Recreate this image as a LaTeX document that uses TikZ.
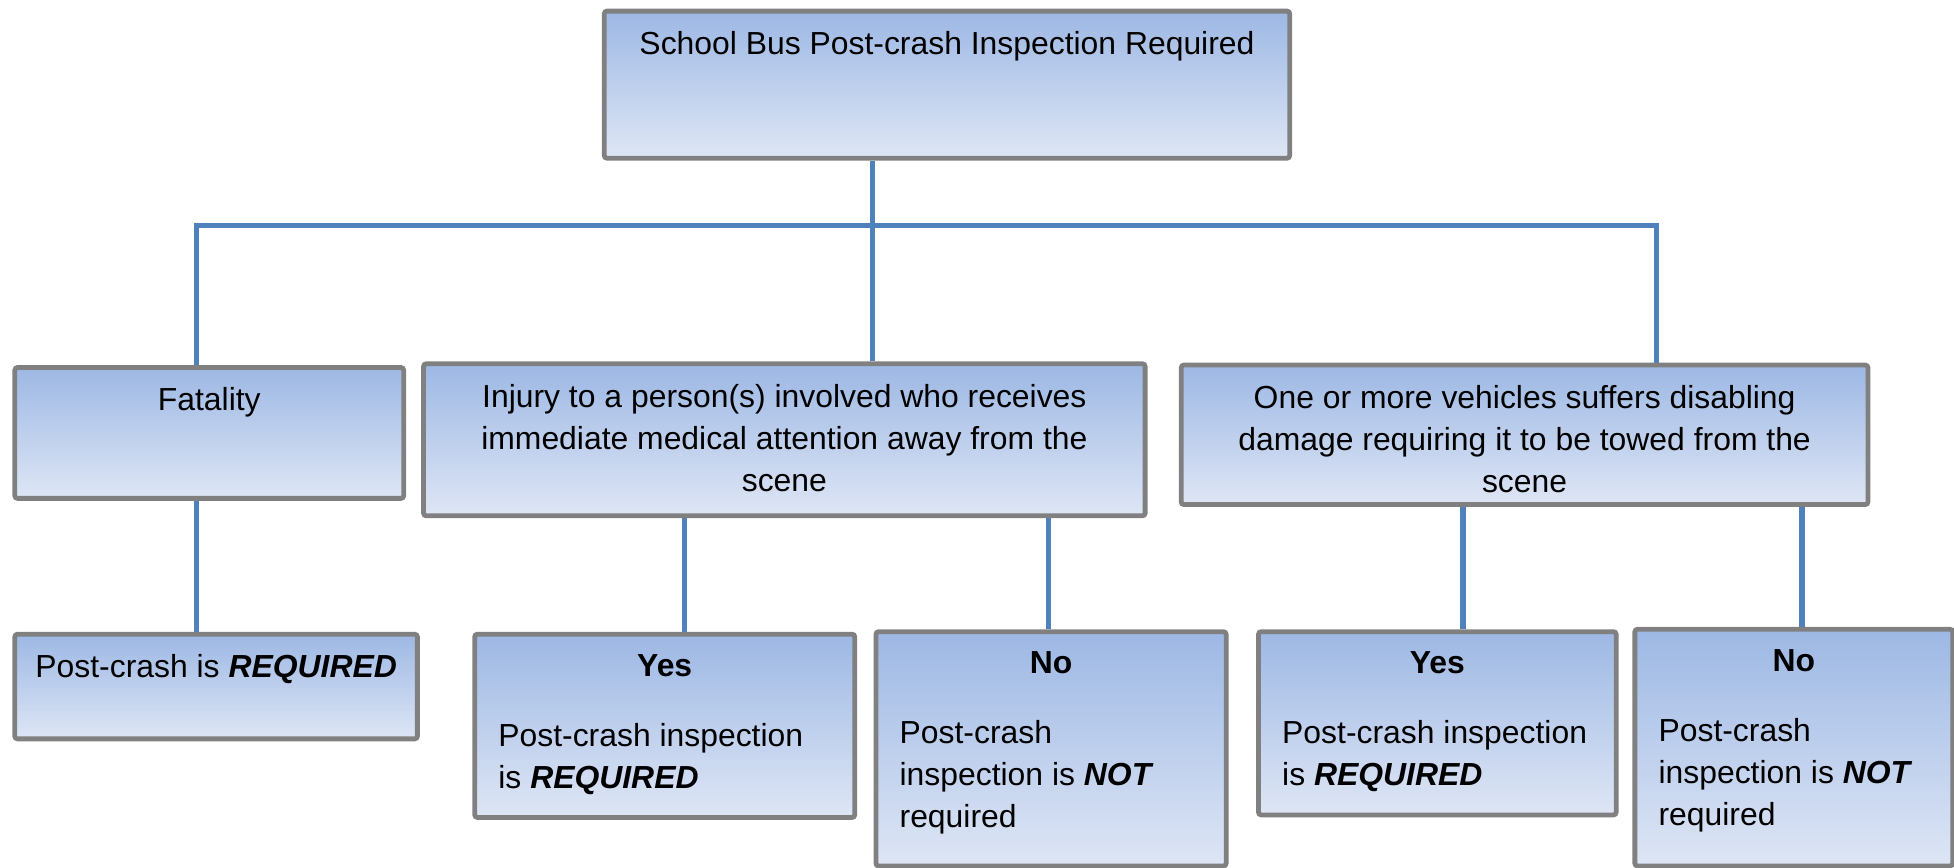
\documentclass[tikz,border=0pt]{standalone}
\usepackage{fontspec}
\setmainfont{Liberation Sans}
\usepackage{tikz}
\usetikzlibrary{calc,backgrounds}

\definecolor{boxedge}{HTML}{808080}
\definecolor{boxtop}{HTML}{9DB8E4}
\definecolor{boxbot}{HTML}{DEE6F5}
\definecolor{linkblue}{HTML}{4F81BD}

\newlength{\px}
\setlength{\px}{0.469pt}
% box body: width and height in px, text hung from the top
\newcommand{\boxbody}[3]{\parbox[c][#2\px][t]{\dimexpr#1\px-38\px\relax}{\vspace*{7.6pt}#3}}
\newcommand{\bi}[1]{\textbf{\textit{#1}}}

\begin{document}
\begin{tikzpicture}[
  x=0.469pt,y=-0.469pt,
  stage/.style={draw=boxedge,line width=1.8pt,rounded corners=1pt,
    top color=boxtop,bottom color=boxbot,anchor=north west,
    inner xsep=19\px,inner ysep=0pt,font=\fontsize{12}{15.8}\selectfont},
  link/.style={draw=linkblue,line width=1.9pt},
]
  \useasboundingbox (0,0) rectangle (1568,696);

  % Root
  \node[stage] (top) at (483,7) {\boxbody{550}{118}{\centering School Bus Post-crash Inspection Required}};

  % Criteria
  \node[stage] (fat) at (10,293) {\boxbody{312}{105}{\centering Fatality}};
  \node[stage] (inj) at (338,290) {\boxbody{579}{122}{\centering Injury to a person(s) involved who receives\\
    immediate medical attention away from the\\ scene}};
  \node[stage] (veh) at (946,291) {\boxbody{551}{112}{\centering One or more vehicles suffers disabling\\
    damage requiring it to be towed from the\\ scene}};

  % Outcomes
  \node[stage] (req) at (10,507) {\boxbody{323}{84}{\centering\hspace*{-14\px}Post-crash is \bi{REQUIRED}\hspace*{-14\px}}};
  \node[stage] (yesA) at (379,507) {\boxbody{305}{147}{{\centering\textbf{Yes}\par}\vspace{10.5pt}
    \raggedright Post-crash inspection\\ is \bi{REQUIRED}}};
  \node[stage] (noA) at (701,505) {\boxbody{281}{188}{{\centering\textbf{No}\par}\vspace{10.5pt}
    \raggedright Post-crash\\ inspection is \bi{NOT}\\ required}};
  \node[stage] (yesB) at (1008,505) {\boxbody{287}{147}{{\centering\textbf{Yes}\par}\vspace{10.5pt}
    \raggedright Post-crash inspection\\ is \bi{REQUIRED}}};
  \node[stage] (noB) at (1310,503) {\boxbody{255}{190}{{\centering\textbf{No}\par}\vspace{10.5pt}
    \raggedright Post-crash\\ inspection is \bi{NOT}\\ required}};

  % Bus and drop points
  \coordinate (busL) at (158,181);
  \coordinate (busM) at (700,181);
  \coordinate (busR) at (1329,181);
  \coordinate (dropYesA) at (549,0);
  \coordinate (dropNoA) at (841,0);
  \coordinate (dropYesB) at (1174,0);
  \coordinate (dropNoB) at (1446,0);

  \begin{scope}[on background layer]
    \draw[link] (busM |- top.south) -- (busM |- inj.north);
    \draw[link] (busL |- fat.north) -- (busL) -- (busR) -- (busR |- veh.north);
    \draw[link] (busL |- fat.south) -- (busL |- req.north);
    \draw[link] (dropYesA |- inj.south) -- (dropYesA |- yesA.north);
    \draw[link] (dropNoA |- inj.south) -- (dropNoA |- noA.north);
    \draw[link] (dropYesB |- veh.south) -- (dropYesB |- yesB.north);
    \draw[link] (dropNoB |- veh.south) -- (dropNoB |- noB.north);
  \end{scope}
\end{tikzpicture}
\end{document}
